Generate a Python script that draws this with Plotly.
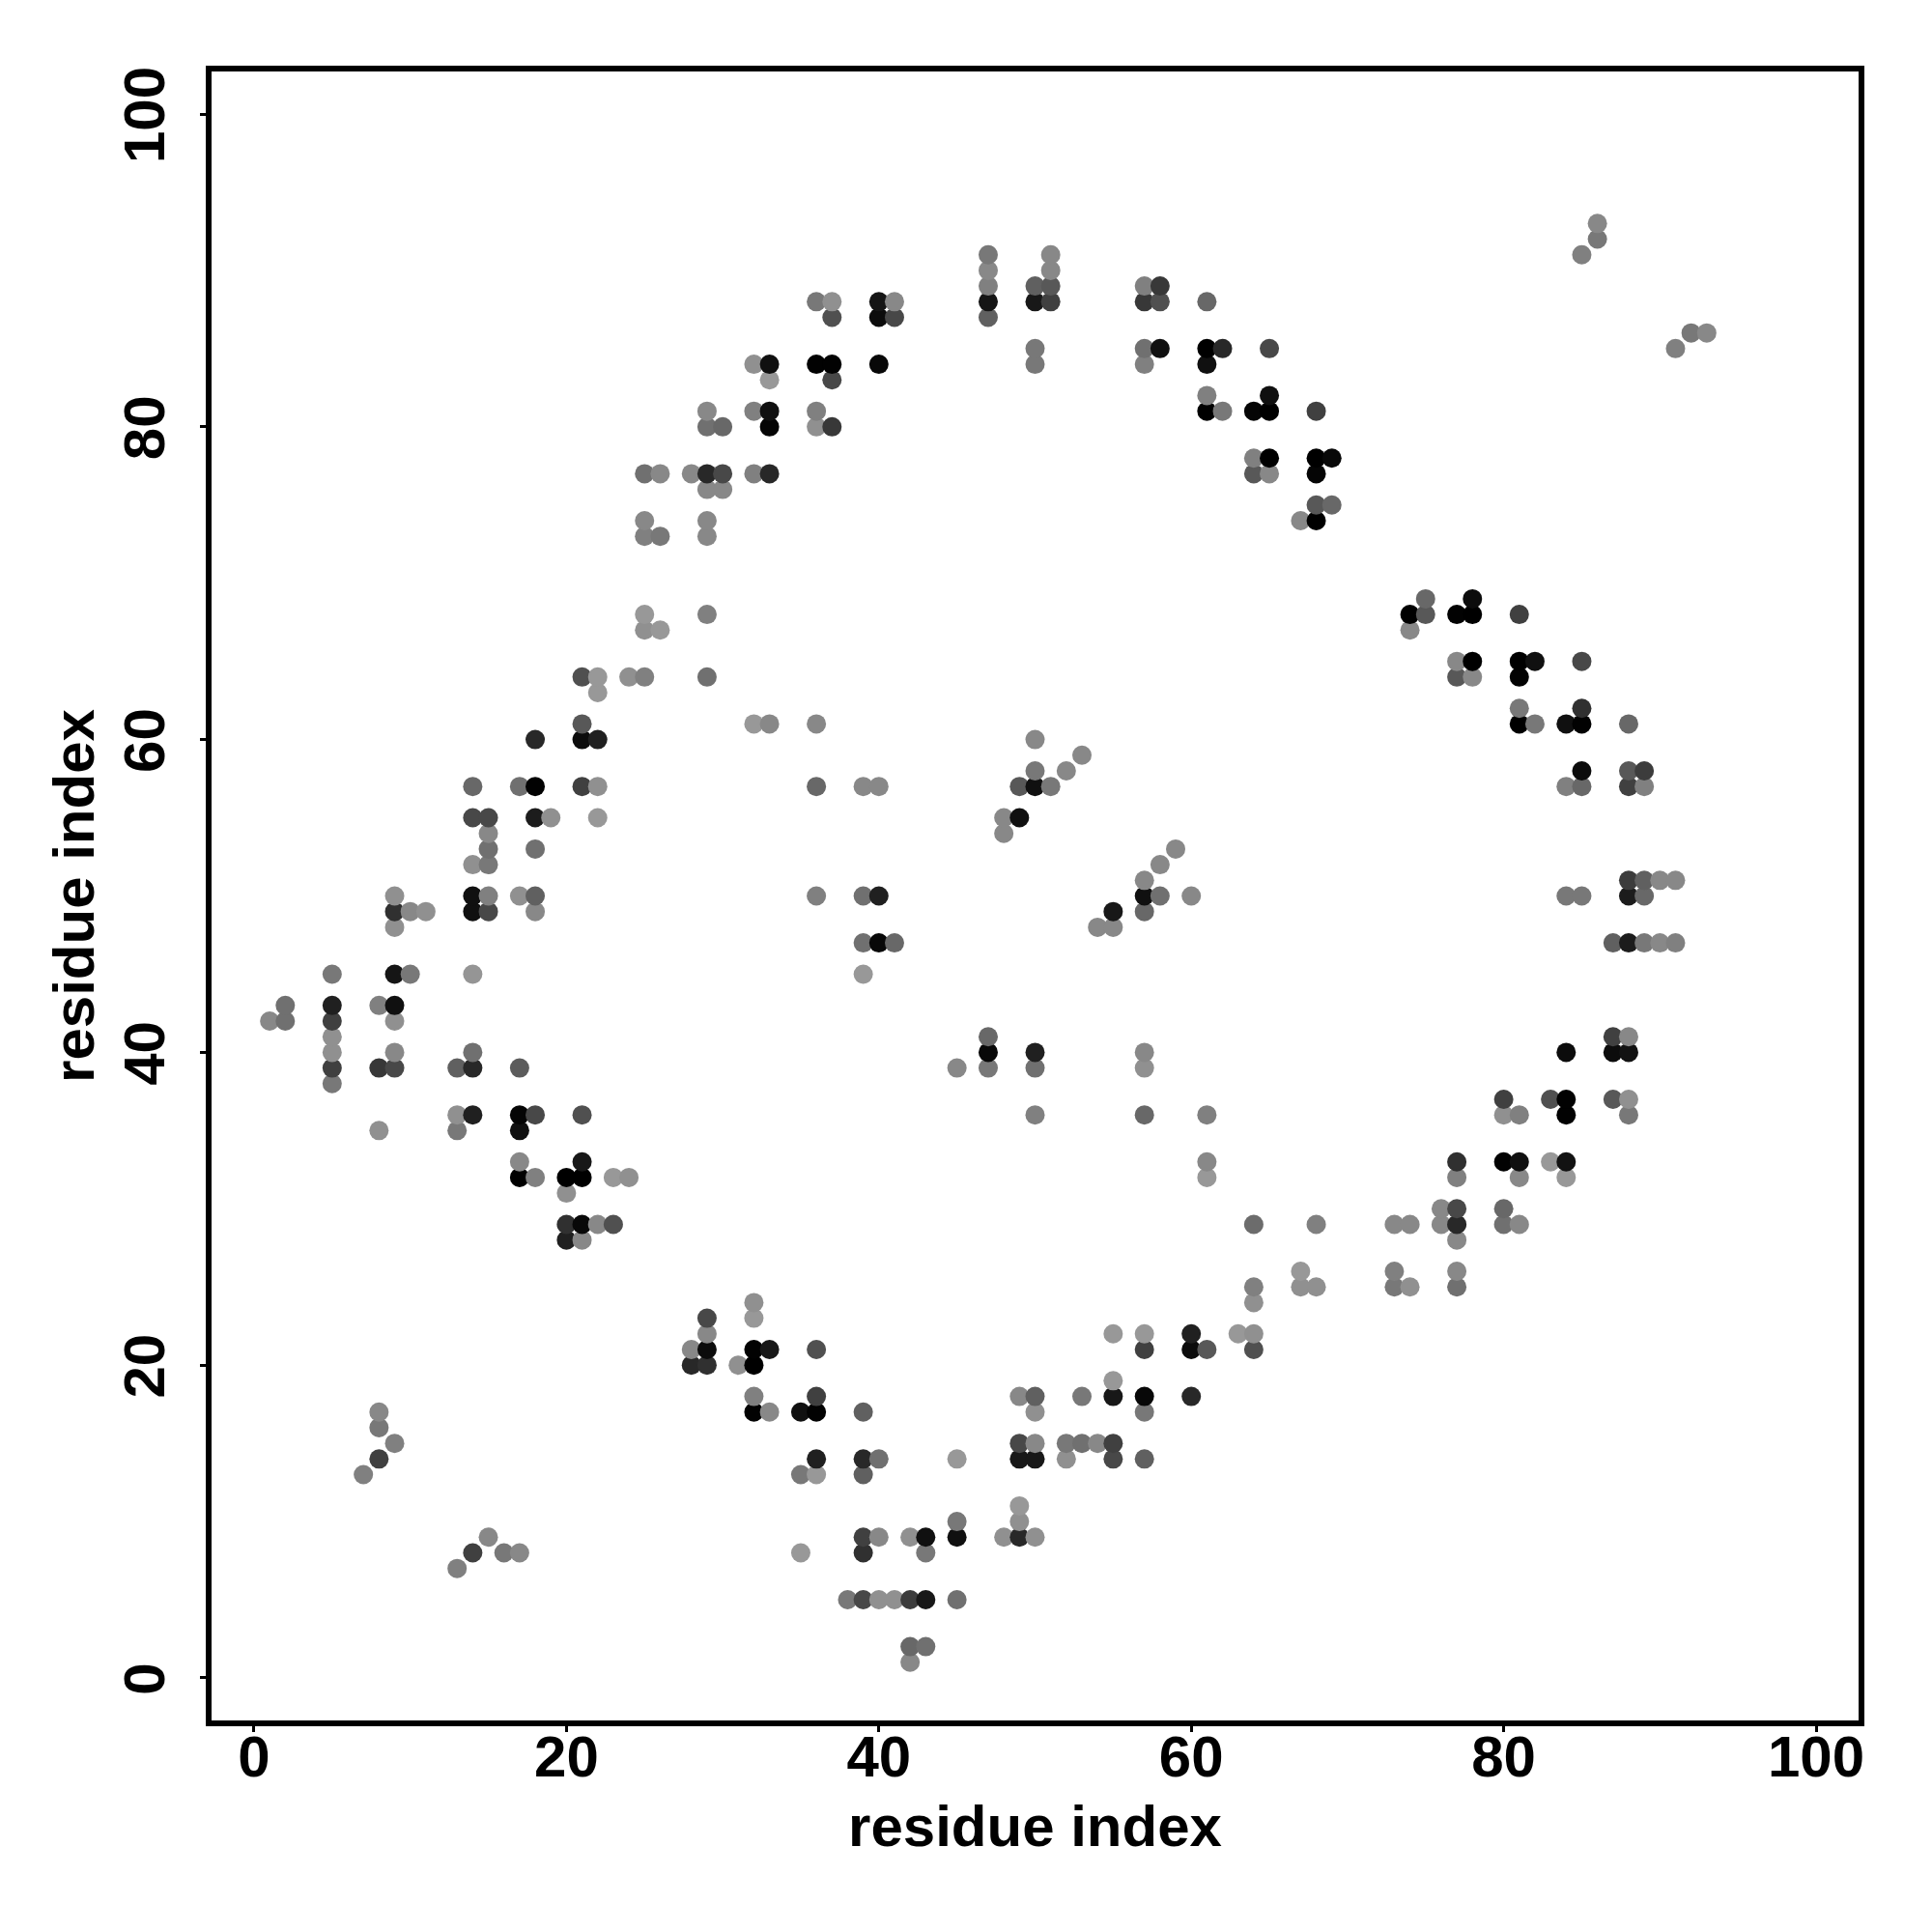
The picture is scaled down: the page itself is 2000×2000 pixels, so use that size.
import plotly.graph_objects as go

# one row per residue j: residues i in contact, and the grey level of each contact
row_j = [93, 92, 91, 90, 89, 88, 87, 86, 85, 84, 83, 82, 81, 80, 78, 77, 76, 75, 74, 73, 69, 68, 67, 65, 64, 63, 62, 61,
         60, 59, 58, 57, 55, 54, 53, 52, 51, 50, 49, 48, 47, 45, 43, 42, 41, 40, 39, 38, 37, 36, 35, 33, 32, 31, 30, 29,
         28, 26, 25, 24, 23, 22, 21, 20, 19, 18, 17, 16, 15, 14, 13, 11, 10, 9, 8, 7, 5, 2, 1]
row_i = [
    [86], [86], [85, 47, 51], [47, 51], [47, 50, 51, 57, 58],
    [36, 37, 40, 41, 47, 50, 51, 57, 58, 61], [37, 40, 41, 47], [92, 93],
    [91, 50, 57, 58, 61, 62, 65], [32, 33, 36, 37, 40, 50, 57, 61], [33, 37], [61, 65],
    [29, 32, 33, 36, 61, 62, 64, 65, 68], [29, 30, 33, 36, 37], [64, 65, 68, 69],
    [25, 26, 28, 29, 30, 32, 33, 64, 65, 68], [29, 30], [68, 69], [25, 29, 67, 68], [25, 26, 29],
    [75, 78], [25, 29, 74, 75, 77, 78, 81], [25, 26, 74], [77, 78, 81, 82, 85],
    [21, 22, 24, 25, 29, 77, 78, 81], [22], [81, 85], [21, 32, 33, 36, 81, 82, 84, 85, 88],
    [18, 21, 22, 50], [53], [50, 52, 85, 88, 89],
    [14, 17, 18, 21, 22, 36, 39, 40, 49, 50, 51, 84, 85, 88, 89],
    [14, 15, 18, 19, 22, 48, 49], [15, 48], [15, 18, 59], [14, 15, 58], [57, 88, 89, 90, 91],
    [9, 14, 15, 17, 18, 36, 39, 40, 57, 58, 60, 84, 85, 88, 89],
    [9, 10, 11, 14, 15, 18, 55, 57], [9, 54, 55], [39, 40, 41, 87, 88, 89, 90, 91],
    [5, 9, 10, 14, 39], [2, 5, 8, 9], [1, 2, 5, 9], [5, 47, 87, 88],
    [5, 9, 14, 47, 50, 57, 84, 87, 88], [5, 8, 9, 13, 14, 17, 45, 47, 50, 57], [5],
    [80, 83, 84, 87, 88], [13, 14, 17, 18, 21, 50, 57, 61, 80, 81, 84, 88], [8, 13, 17],
    [17, 21, 61, 77, 80, 81, 83, 84], [17, 18, 20, 21, 23, 24, 61, 77, 81, 84], [20], [76, 77, 80],
    [20, 21, 22, 23, 64, 68, 73, 74, 76, 77, 80, 81], [20, 21, 77], [67, 73, 77],
    [64, 67, 68, 73, 74, 77], [32, 64], [29, 32], [29, 55, 57, 60, 63, 64],
    [28, 29, 32, 33, 36, 57, 60, 61, 64], [28, 29, 31, 32], [55],
    [32, 36, 49, 50, 53, 55, 57, 60], [8, 32, 33, 35, 36, 39, 50, 57], [8],
    [9, 49, 50, 52, 53, 54, 55], [8, 36, 39, 40, 45, 49, 50, 52, 55, 57], [7, 35, 36, 39], [49], [45, 49],
    [15, 39, 40, 42, 43, 45, 48, 49, 50], [14, 16, 17, 35, 39, 43], [13],
    [38, 39, 40, 41, 42, 43, 45], [42, 43], [42],
]
row_grey = [
    [0x88], [0x78], [0x80, 0x78, 0x88], [0x88, 0x88], [0x80, 0x60, 0x58, 0x80, 0x38],
    [0x78, 0x90, 0x15, 0x88, 0x15, 0x18, 0x40, 0x38, 0x50, 0x68], [0x50, 0x0c, 0x48, 0x60], [0x78, 0x88],
    [0x80, 0x78, 0x70, 0x10, 0x00, 0x28, 0x48], [0x90, 0x10, 0x02, 0x02, 0x08, 0x78, 0x80, 0x10], [0x98, 0x48], [0x80, 0x10],
    [0x88, 0x80, 0x10, 0x80, 0x00, 0x78, 0x05, 0x00, 0x40], [0x70, 0x68, 0x05, 0x90, 0x38], [0x80, 0x00, 0x00, 0x08],
    [0x70, 0x88, 0x88, 0x28, 0x48, 0x80, 0x28, 0x58, 0x88, 0x05], [0x88, 0x88], [0x58, 0x68], [0x88, 0x88, 0x88, 0x00], [0x80, 0x78, 0x88],
    [0x68, 0x0c], [0x98, 0x80, 0x00, 0x58, 0x02, 0x00, 0x40], [0x90, 0x98, 0x88], [0x88, 0x00, 0x00, 0x10, 0x48],
    [0x50, 0x98, 0x90, 0x80, 0x70, 0x58, 0x88, 0x02], [0x98], [0x78, 0x30], [0x58, 0x98, 0x88, 0x88, 0x00, 0x78, 0x10, 0x02, 0x68],
    [0x28, 0x0c, 0x20, 0x88], [0x88], [0x78, 0x88, 0x0c, 0x58, 0x3c],
    [0x68, 0x70, 0x02, 0x40, 0x90, 0x68, 0x88, 0x88, 0x58, 0x10, 0x78, 0x80, 0x68, 0x40, 0x80],
    [0x48, 0x48, 0x1c, 0x90, 0x98, 0x88, 0x10], [0x88, 0x88], [0x70, 0x70, 0x88], [0x90, 0x78, 0x88], [0x88, 0x3c, 0x60, 0x88, 0x88],
    [0x90, 0x10, 0x80, 0x90, 0x60, 0x80, 0x70, 0x20, 0x10, 0x70, 0x88, 0x78, 0x78, 0x1c, 0x68],
    [0x30, 0x88, 0x90, 0x10, 0x48, 0x88, 0x18, 0x68], [0x90, 0x88, 0x88], [0x70, 0x08, 0x68, 0x60, 0x1c, 0x78, 0x88, 0x80],
    [0x78, 0x15, 0x78, 0x95, 0x98], [0x70, 0x20, 0x80, 0x10], [0x88, 0x70, 0x40, 0x90], [0x90, 0x68, 0x40, 0x88],
    [0x90, 0x88, 0x70, 0x08, 0x20, 0x88, 0x0c, 0x0c, 0x12], [0x40, 0x38, 0x48, 0x60, 0x28, 0x5c, 0x88, 0x78, 0x70, 0x90], [0x78],
    [0x40, 0x50, 0x02, 0x58, 0x90], [0x90, 0x20, 0x05, 0x48, 0x50, 0x80, 0x68, 0x80, 0x90, 0x80, 0x02, 0x78], [0x90, 0x78, 0x10],
    [0x88, 0x18, 0x88, 0x30, 0x02, 0x10, 0x98, 0x12], [0x00, 0x80, 0x00, 0x00, 0x98, 0x90, 0x98, 0x80, 0x88, 0x98], [0x90], [0x88, 0x48, 0x68],
    [0x30, 0x08, 0x88, 0x50, 0x6c, 0x80, 0x88, 0x88, 0x88, 0x28, 0x70, 0x88], [0x20, 0x88, 0x88], [0x98, 0x80, 0x88],
    [0x80, 0x90, 0x90, 0x78, 0x90, 0x70], [0x90, 0x90], [0x48, 0x98], [0x88, 0x98, 0x98, 0x20, 0x98, 0x90],
    [0x88, 0x0c, 0x02, 0x18, 0x50, 0x40, 0x0c, 0x58, 0x50], [0x28, 0x30, 0x90, 0x00], [0x98],
    [0x80, 0x40, 0x88, 0x60, 0x78, 0x18, 0x08, 0x28], [0x88, 0x02, 0x88, 0x10, 0x02, 0x60, 0x90, 0x78], [0x78],
    [0x80, 0x48, 0x88, 0x78, 0x70, 0x88, 0x40], [0x40, 0x20, 0x28, 0x70, 0x98, 0x18, 0x18, 0x90, 0x48, 0x60], [0x80, 0x78, 0x98, 0x60], [0x98], [0x78, 0x90],
    [0x88, 0x40, 0x88, 0x90, 0x10, 0x10, 0x90, 0x28, 0x90], [0x40, 0x78, 0x88, 0x98, 0x30, 0x78], [0x80],
    [0x78, 0x48, 0x90, 0x90, 0x3c, 0x18, 0x70], [0x68, 0x70], [0x88],
]
tick_values = [0, 20, 40, 60, 80, 100]
axis_title = "residue index"

assert len(row_j) == len(row_i) == len(row_grey)
contacts = []
for j, xs, gs in zip(row_j, row_i, row_grey):
    assert len(xs) == len(gs), j
    contacts += [(x, j, g) for x, g in zip(xs, gs)]
contacts.sort()  # drawn by i, then j

font = dict(family="Liberation Sans", size=60, color="black", weight=700)
fig = go.Figure(go.Scatter(
    x=[c[0] for c in contacts], y=[c[1] for c in contacts], mode="markers",
    marker=dict(size=20, color=[f"rgb({c[2]},{c[2]},{c[2]})" for c in contacts], line=dict(width=0)),
    hoverinfo="skip",
))
axis = dict(
    range=[-2.72, 102.72], tickvals=tick_values, ticks="outside", ticklen=6, tickwidth=3,
    tickcolor="black", showline=True, linecolor="black", linewidth=5.5, mirror=True,
    showgrid=False, zeroline=False, tickfont=font,
)
fig.update_layout(
    width=2000, height=2000, showlegend=False,
    paper_bgcolor="white", plot_bgcolor="white",
    margin=dict(l=211, r=84, t=66, b=227, autoexpand=False),
    xaxis=dict(**axis, ticklabelstandoff=-26, title=dict(text=axis_title, standoff=20, font=font)),
    yaxis=dict(**axis, tickangle=-90, ticklabelstandoff=13, ticklabelshift=10,
               title=dict(text=axis_title, standoff=1, font=font)),
)
fig.write_html("out.html")
